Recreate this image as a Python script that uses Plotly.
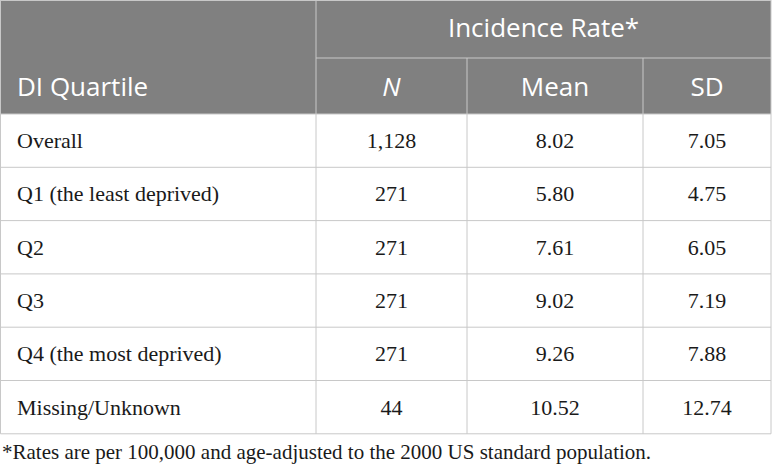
import plotly.graph_objects as go

# DATA
quartiles = ["Overall", "Q1 (the least deprived)", "Q2", "Q3",
             "Q4 (the most deprived)", "Missing/Unknown"]
n_counts = ["1,128", "271", "271", "271", "271", "44"]
mean_rate = ["8.02", "5.80", "7.61", "9.02", "9.26", "10.52"]
sd_rate = ["7.05", "4.75", "6.05", "7.19", "7.88", "12.74"]
col_headers = ["DI Quartile", "<i>N</i>", "Mean", "SD"]
group_header = "Incidence Rate*"
footnote = "*Rates are per 100,000 and age-adjusted to the 2000 US standard population."

# LAYOUT CONSTANTS (pixels)
W, H = 772, 466
GRAY = "#808080"
LINE = "#c8c8c8"
TXT = "#1a1a1a"
col_edges = [0.5, 316, 467, 643, 771]
head1_h, head2_h = 58, 56
row_h = 53.3
body_top = head1_h + head2_h
body_bot = body_top + row_h * len(quartiles)
HEAD_FONT = dict(family="Open Sans", size=26, color="white")
BODY_FONT = dict(family="Liberation Serif", size=22, color=TXT)

fig = go.Figure()
shapes = []

# header background
shapes.append(dict(type="rect", x0=col_edges[0], x1=col_edges[-1], y0=0.5, y1=body_top,
                   fillcolor=GRAY, line=dict(width=0), layer="below"))
# grid lines
line = dict(color=LINE, width=1)
shapes.append(dict(type="line", x0=col_edges[0], x1=col_edges[-1], y0=0.5, y1=0.5, line=line))
shapes.append(dict(type="line", x0=col_edges[1], x1=col_edges[-1], y0=head1_h, y1=head1_h, line=line))
for i in range(len(quartiles) + 1):
    y = body_top + i * row_h
    shapes.append(dict(type="line", x0=col_edges[0], x1=col_edges[-1], y0=y, y1=y, line=line))
shapes.append(dict(type="line", x0=col_edges[0], x1=col_edges[0], y0=0, y1=body_bot, line=line))
shapes.append(dict(type="line", x0=col_edges[1], x1=col_edges[1], y0=0, y1=body_bot, line=line))
for x in col_edges[2:-1]:
    shapes.append(dict(type="line", x0=x, x1=x, y0=head1_h, y1=body_bot, line=line))
shapes.append(dict(type="line", x0=col_edges[-1], x1=col_edges[-1], y0=0, y1=body_bot, line=line))

# group header
fig.add_trace(go.Scatter(
    x=[(col_edges[1] + col_edges[-1]) / 2], y=[head1_h / 2 + 1], text=[group_header],
    mode="text", textposition="middle center", textfont=HEAD_FONT, hoverinfo="skip"))

# column headers
centers = [(col_edges[i] + col_edges[i + 1]) / 2 for i in range(1, 4)]
hy = head1_h + head2_h / 2 + 3
fig.add_trace(go.Scatter(
    x=[17], y=[hy], text=[col_headers[0]], mode="text",
    textposition="middle right", textfont=HEAD_FONT, hoverinfo="skip"))
fig.add_trace(go.Scatter(
    x=centers, y=[hy] * 3, text=col_headers[1:], mode="text",
    textposition="middle center", textfont=HEAD_FONT, hoverinfo="skip"))

# body
row_y = [body_top + row_h * (i + 0.5) + 2 for i in range(len(quartiles))]
fig.add_trace(go.Scatter(
    x=[17] * len(quartiles), y=row_y, text=quartiles, mode="text",
    textposition="middle right", textfont=BODY_FONT, hoverinfo="skip"))
for cx, vals in zip(centers, [n_counts, mean_rate, sd_rate]):
    fig.add_trace(go.Scatter(
        x=[cx] * len(vals), y=row_y, text=vals, mode="text",
        textposition="middle center", textfont=BODY_FONT, hoverinfo="skip"))

fig.add_annotation(
    text=footnote, xref="x", yref="y", x=0, y=452,
    xanchor="left", yanchor="middle", showarrow=False,
    font=dict(family="Liberation Serif", size=21, color=TXT),
)

fig.update_layout(
    width=W, height=H,
    margin=dict(l=0, r=0, t=0, b=0),
    paper_bgcolor="white", plot_bgcolor="white",
    showlegend=False, shapes=shapes,
    xaxis=dict(range=[0, W], visible=False, fixedrange=True),
    yaxis=dict(range=[H, 0], visible=False, fixedrange=True),
)

fig.write_html("out.html", config=dict(displayModeBar=False),
               post_script="document.body.style.margin='0';")
